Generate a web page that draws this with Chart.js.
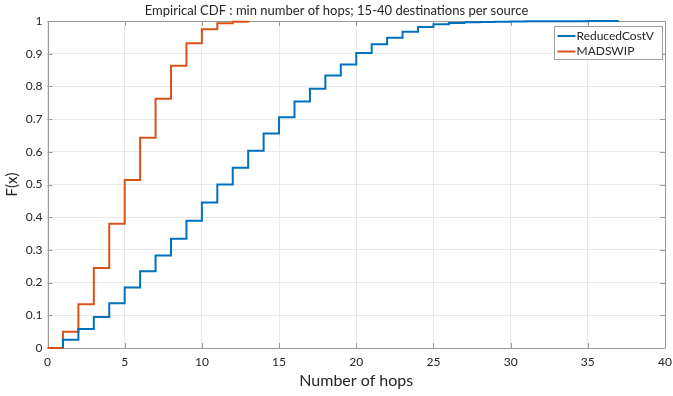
<!DOCTYPE html>
<html><head><meta charset="utf-8">
<script src="https://cdn.jsdelivr.net/npm/chart.js@4/dist/chart.umd.min.js"></script>
<style>html,body{margin:0;padding:0;background:#fff;overflow:hidden}#wrap{width:673px;height:396px}</style>
</head><body><div id="wrap"><canvas id="c" width="673" height="396"></canvas></div>
<script>
const titleText = 'Empirical CDF : min number of hops; 15-40 destinations per source';
const xTitle = 'Number of hops';
const yTitle = 'F(x)';
const seriesNames = ['ReducedCostV', 'MADSWIP'];
const seriesColors = ['#0072BD', '#D95319'];

const hopsReduced = [1, 1, 2, 3, 4, 5, 6, 7, 8, 9, 10, 11, 12, 13, 14, 15, 16, 17, 18, 19, 20, 21, 22, 23, 24, 25, 26, 27, 28, 29, 30, 31, 32, 33, 34, 35, 36, 37];
const cdfReduced = [0, 0.025, 0.058, 0.095, 0.137, 0.185, 0.235, 0.283, 0.334, 0.389, 0.445, 0.5, 0.551, 0.603, 0.656, 0.706, 0.754, 0.793, 0.833, 0.867, 0.902, 0.929, 0.949, 0.967, 0.982, 0.99, 0.994, 0.996, 0.997, 0.998, 0.9985, 0.999, 0.999, 0.9993, 0.9995, 0.9997, 0.9998, 1];

const hopsMads = [0, 1, 2, 3, 4, 5, 6, 7, 8, 9, 10, 11, 12, 13];
const cdfMads = [0, 0.05, 0.134, 0.245, 0.38, 0.514, 0.643, 0.762, 0.863, 0.932, 0.975, 0.993, 0.998, 1];

const xTicks = [0, 5, 10, 15, 20, 25, 30, 35, 40];
const yTicks = [0, 0.1, 0.2, 0.3, 0.4, 0.5, 0.6, 0.7, 0.8, 0.9, 1];

const FONT = 'Lato, "Open Sans", sans-serif';
const AXIS_COLOR = '#9a9a9a';
const TEXT_COLOR = '#262626';

function pts(xs, ys) { return xs.map((x, i) => ({ x: x, y: ys[i] })); }

const framePlugin = {
  id: 'frame',
  beforeDatasetsDraw(chart) {
    const { ctx, chartArea: a, scales: { x, y } } = chart;
    ctx.save();
    ctx.strokeStyle = AXIS_COLOR;
    ctx.lineWidth = 1;
    ctx.beginPath();
    ctx.rect(Math.round(a.left) + 0.5, Math.round(a.top) + 0.5, Math.round(a.right - a.left) - 1, Math.round(a.bottom - a.top));
    const tl = 5;
    xTicks.forEach(v => {
      const px = Math.round(x.getPixelForValue(v)) + 0.5;
      ctx.moveTo(px, a.bottom); ctx.lineTo(px, a.bottom - tl);
      ctx.moveTo(px, a.top); ctx.lineTo(px, a.top + tl);
    });
    yTicks.forEach(v => {
      const py = Math.round(y.getPixelForValue(v)) + 0.5;
      ctx.moveTo(a.left, py); ctx.lineTo(a.left + tl, py);
      ctx.moveTo(a.right, py); ctx.lineTo(a.right - tl, py);
    });
    ctx.stroke();
    ctx.restore();
  },
  afterDraw(chart) {
    const { ctx } = chart;
    const bx = 554.5, by = 26.5, bw = 108, bh = 33;
    ctx.save();
    ctx.fillStyle = '#fff';
    ctx.fillRect(bx, by, bw, bh);
    ctx.strokeStyle = '#a0a0a0';
    ctx.lineWidth = 1;
    ctx.strokeRect(bx, by, bw, bh);
    ctx.font = '12px ' + FONT;
    ctx.textBaseline = 'middle';
    ctx.textAlign = 'left';
    chart.data.datasets.forEach((ds, i) => {
      const cy = by + 9.5 + i * 15.5;
      ctx.strokeStyle = ds.borderColor;
      ctx.lineWidth = 2;
      ctx.beginPath();
      ctx.moveTo(bx + 3, cy); ctx.lineTo(bx + 21, cy);
      ctx.stroke();
      ctx.fillStyle = TEXT_COLOR;
      ctx.fillText(ds.label, bx + 22, cy);
    });
    ctx.restore();
  }
};

new Chart(document.getElementById('c'), {
  type: 'line',
  data: {
    datasets: [
      { label: seriesNames[0], data: pts(hopsReduced, cdfReduced), borderColor: seriesColors[0], backgroundColor: seriesColors[0], borderWidth: 2, stepped: true, pointRadius: 0, fill: false, clip: false },
      { label: seriesNames[1], data: pts(hopsMads, cdfMads), borderColor: seriesColors[1], backgroundColor: seriesColors[1], borderWidth: 2, stepped: true, pointRadius: 0, fill: false, clip: false }
    ]
  },
  options: {
    responsive: false,
    devicePixelRatio: 1,
    animation: false,
    layout: { padding: { left: 0, right: 0, top: 0, bottom: 0 } },
    plugins: {
      legend: { display: false },
      tooltip: { enabled: false },
      title: {
        display: true, text: titleText, color: TEXT_COLOR,
        font: { family: FONT, size: 13, weight: 'normal', lineHeight: 1.2 },
        padding: { top: 3, bottom: 2.4 }
      }
    },
    scales: {
      x: {
        type: 'linear', min: 0, max: 40,
        afterBuildTicks: s => { s.ticks = xTicks.map(v => ({ value: v })); },
        afterFit: s => { s.height = 48; s.paddingRight = 8; s.paddingLeft = 0; },
        ticks: { color: TEXT_COLOR, font: { family: FONT, size: 12 }, padding: 7, maxRotation: 0, callback: v => String(v) },
        grid: { color: '#e9e9e9', drawTicks: false },
        border: { display: false },
        title: { display: true, text: xTitle, color: TEXT_COLOR, font: { family: FONT, size: 16 }, padding: { top: 0, bottom: 6 } }
      },
      y: {
        type: 'linear', min: 0, max: 1,
        afterBuildTicks: s => { s.ticks = yTicks.map(v => ({ value: v })); },
        afterFit: s => { s.width = 47.5; },
        ticks: { color: TEXT_COLOR, font: { family: FONT, size: 12 }, padding: 5, callback: v => (v === 0 ? '0' : v === 1 ? '1' : v.toFixed(1)) },
        grid: { color: '#e9e9e9', drawTicks: false },
        border: { display: false },
        title: { display: true, text: yTitle, color: TEXT_COLOR, font: { family: FONT, size: 15 }, padding: { top: 3, bottom: 0 } }
      }
    }
  },
  plugins: [framePlugin]
});
</script>
</body></html>
